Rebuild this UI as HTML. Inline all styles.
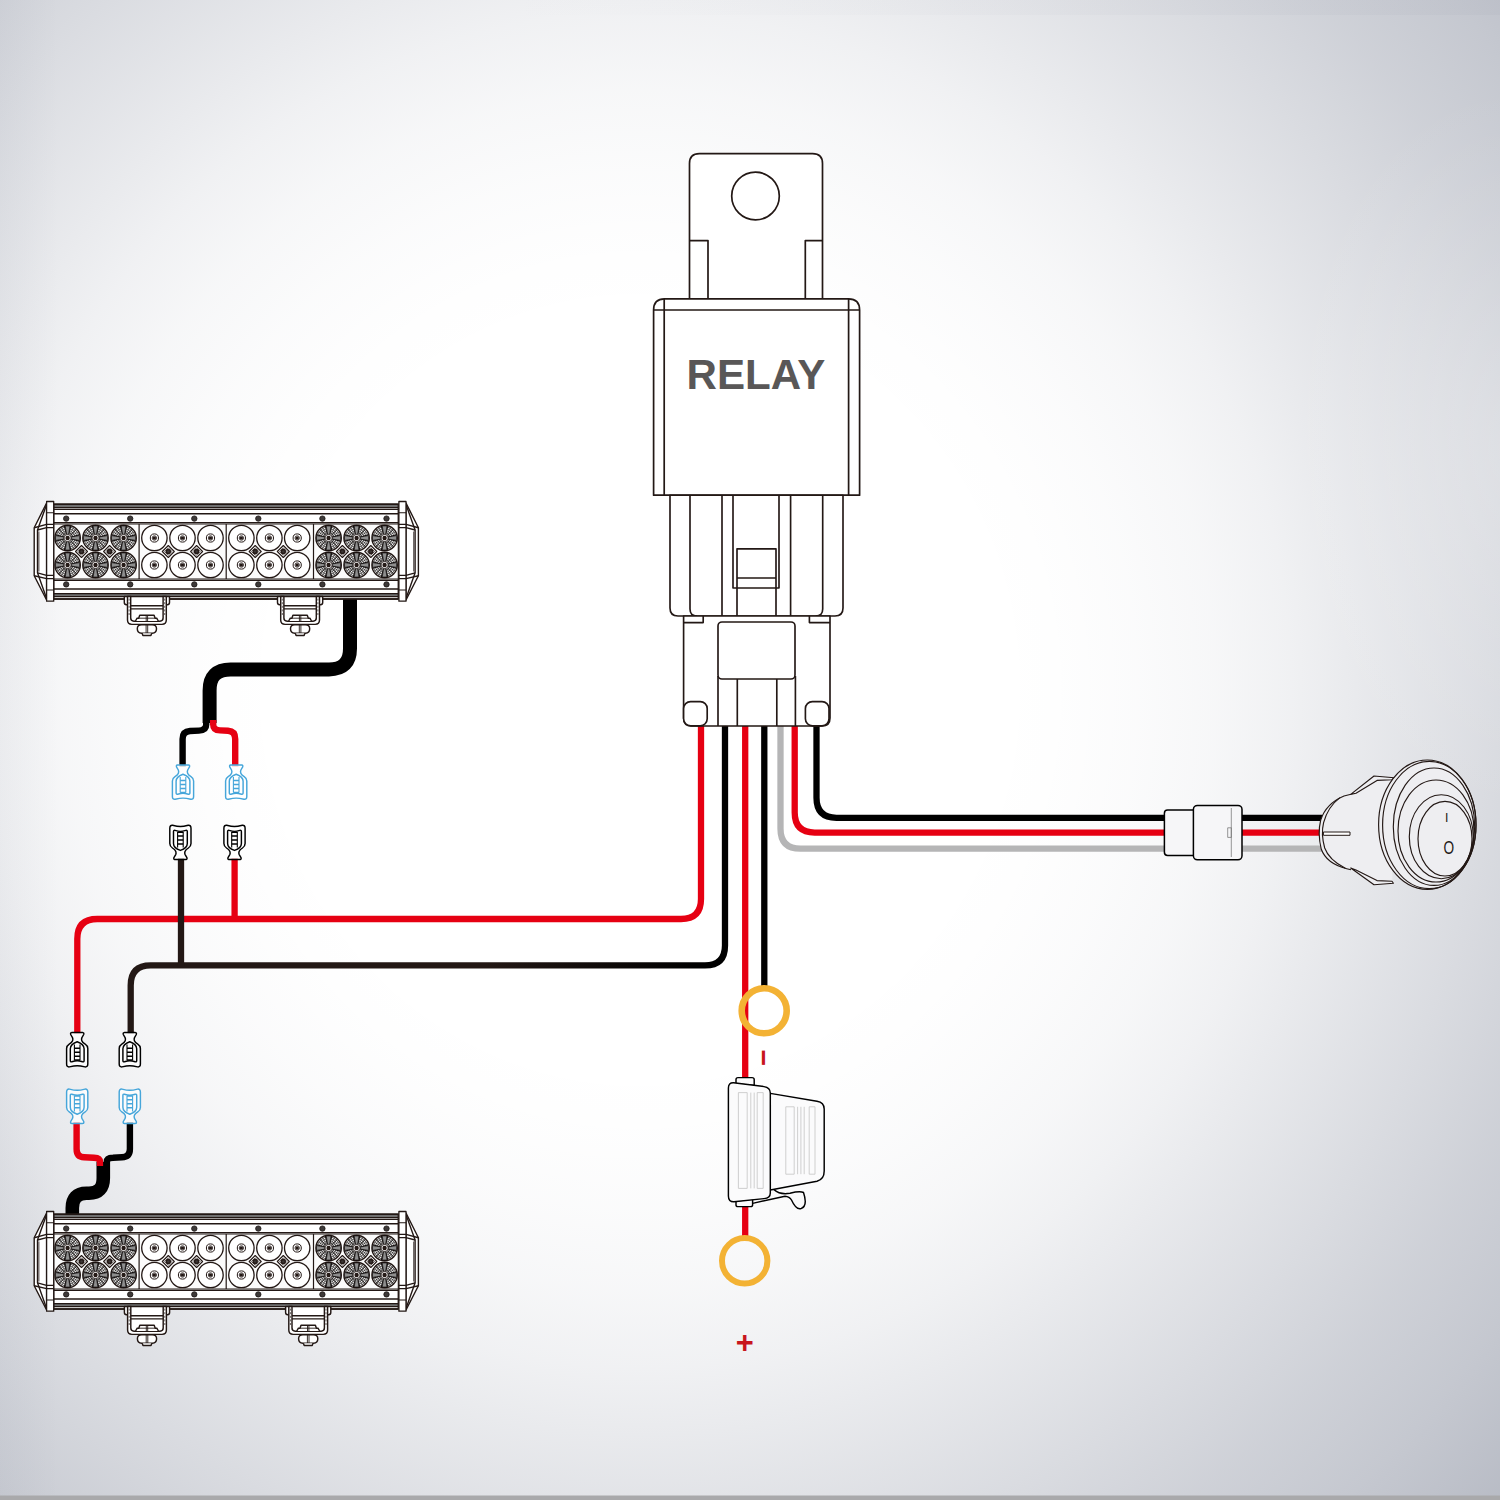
<!DOCTYPE html>
<html lang="en">
<head>
<meta charset="utf-8">
<title>LED light bar wiring harness diagram</title>
<style>
html,body{margin:0;padding:0;}
body{width:1500px;height:1500px;overflow:hidden;background:#e4e5ea;position:relative;
font-family:"Liberation Sans",sans-serif;}
svg{position:absolute;left:0;top:0;display:block;}
text{font-family:"Liberation Sans",sans-serif;font-weight:bold;}
</style>
</head>
<body>
<svg width="1500" height="1500" viewBox="0 0 1500 1500">
<defs>
<radialGradient id="bgr" gradientUnits="userSpaceOnUse" cx="640" cy="690" r="1250" gradientTransform="translate(0,690) scale(1,1.0417) translate(0,-690)">
<stop offset="0.288" stop-color="#131f3f" stop-opacity="0.0000"/>
<stop offset="0.344" stop-color="#131f3f" stop-opacity="0.0067"/>
<stop offset="0.400" stop-color="#131f3f" stop-opacity="0.0179"/>
<stop offset="0.460" stop-color="#131f3f" stop-opacity="0.0357"/>
<stop offset="0.520" stop-color="#131f3f" stop-opacity="0.0625"/>
<stop offset="0.580" stop-color="#131f3f" stop-opacity="0.0982"/>
<stop offset="0.640" stop-color="#131f3f" stop-opacity="0.1339"/>
<stop offset="0.700" stop-color="#131f3f" stop-opacity="0.1696"/>
<stop offset="0.760" stop-color="#131f3f" stop-opacity="0.2054"/>
<stop offset="0.840" stop-color="#131f3f" stop-opacity="0.2455"/>
<stop offset="0.920" stop-color="#131f3f" stop-opacity="0.2946"/>
<stop offset="1.000" stop-color="#131f3f" stop-opacity="0.3348"/>
</radialGradient>
<radialGradient id="glow" gradientUnits="userSpaceOnUse" cx="1510" cy="450" r="230" gradientTransform="translate(0,450) scale(1,1.6) translate(0,-450)">
<stop offset="0" stop-color="#ffffff" stop-opacity="0.22"/><stop offset="0.5" stop-color="#ffffff" stop-opacity="0.1"/><stop offset="1" stop-color="#ffffff" stop-opacity="0"/>
</radialGradient>
<linearGradient id="edgeL" gradientUnits="userSpaceOnUse" x1="0" y1="0" x2="60" y2="0">
<stop offset="0" stop-color="#131f3f" stop-opacity="0.03"/><stop offset="1" stop-color="#131f3f" stop-opacity="0"/>
</linearGradient>
<linearGradient id="edgeR" gradientUnits="userSpaceOnUse" x1="1500" y1="0" x2="1000" y2="0">
<stop offset="0" stop-color="#131f3f" stop-opacity="0.05"/><stop offset="1" stop-color="#131f3f" stop-opacity="0"/>
</linearGradient>
<linearGradient id="topband" gradientUnits="userSpaceOnUse" x1="500" y1="0" x2="1500" y2="0"><stop offset="0" stop-color="#8f93a3" stop-opacity="0"/><stop offset="1" stop-color="#8f93a3" stop-opacity="0.08"/></linearGradient>
<g id="spade" fill="none" stroke-width="1.45" stroke-linejoin="round">
<path fill="#ffffff" fill-opacity="0.75" d="M-5.6,0 H5.6 Q7,0.2 6.5,1.9 L4.7,5 Q4,6.6 4.6,8.2 Q5.3,10 8,11.6 Q10.6,13.2 10.6,16 V31.4 Q10.6,34.6 7.8,34.3 Q3,33.1 0,33.1 Q-3,33.1 -7.8,34.3 Q-10.6,34.6 -10.6,31.4 V16 Q-10.6,13.2 -8,11.6 Q-5.3,10 -4.6,8.2 Q-4,6.6 -4.7,5 L-6.5,1.9 Q-7,0.2 -5.6,0 Z"/>
<path d="M0,9.2 Q-6.9,11.6 -6.9,16.2 V27.8 Q-6.9,29.6 -5.4,29.2 Q-2,28.2 0,28.2 Q2,28.2 5.4,29.2 Q6.9,29.6 6.9,27.8 V16.2 Q6.9,11.6 0,9.2 Z"/>
<path d="M-2.8,12 V27.6 M2.8,12 V27.6" stroke-width="1.1"/>
<path d="M-2.8,15.6 H2.8 M-2.8,19.6 H2.8 M-2.8,23.6 H2.8 M-2.8,27.4 H2.8" stroke-width="1.5"/>
</g>
<g id="spot">
<circle r="12.7" fill="#f4f4f4" stroke="#231815" stroke-width="1.4"/>
<circle r="5.4" fill="none" stroke="#0d0908" stroke-width="0.65"/>
<circle r="7.4" fill="none" stroke="#0d0908" stroke-width="0.65"/>
<circle r="9.4" fill="none" stroke="#0d0908" stroke-width="0.65"/>
<circle r="11.2" fill="none" stroke="#0d0908" stroke-width="0.65"/>
<path d="M3.60,0.00 L12.30,0.00 M3.48,0.93 L11.88,3.18 M3.12,1.80 L10.65,6.15 M2.55,2.55 L8.70,8.70 M1.80,3.12 L6.15,10.65 M0.93,3.48 L3.18,11.88 M0.00,3.60 L0.00,12.30 M-0.93,3.48 L-3.18,11.88 M-1.80,3.12 L-6.15,10.65 M-2.55,2.55 L-8.70,8.70 M-3.12,1.80 L-10.65,6.15 M-3.48,0.93 L-11.88,3.18 M-3.60,0.00 L-12.30,0.00 M-3.48,-0.93 L-11.88,-3.18 M-3.12,-1.80 L-10.65,-6.15 M-2.55,-2.55 L-8.70,-8.70 M-1.80,-3.12 L-6.15,-10.65 M-0.93,-3.48 L-3.18,-11.88 M-0.00,-3.60 L-0.00,-12.30 M0.93,-3.48 L3.18,-11.88 M1.80,-3.12 L6.15,-10.65 M2.55,-2.55 L8.70,-8.70 M3.12,-1.80 L10.65,-6.15 M3.48,-0.93 L11.88,-3.18" stroke="#0d0908" stroke-width="0.5" fill="none"/>
<path d="M3.28,0.88 L11.98,3.21 M2.40,2.40 L8.77,8.77 M0.88,3.28 L3.21,11.98 M-0.88,3.28 L-3.21,11.98 M-2.40,2.40 L-8.77,8.77 M-3.28,0.88 L-11.98,3.21 M-3.28,-0.88 L-11.98,-3.21 M-2.40,-2.40 L-8.77,-8.77 M-0.88,-3.28 L-3.21,-11.98 M0.88,-3.28 L3.21,-11.98 M2.40,-2.40 L8.77,-8.77 M3.28,-0.88 L11.98,-3.21" stroke="#0d0908" stroke-width="0.9" fill="none"/>
<path d="M3.65,-1.05 L12.07,-2.38 L12.07,2.38 L3.65,1.05Z M1.05,3.65 L2.38,12.07 L-2.38,12.07 L-1.05,3.65Z M-3.65,1.05 L-12.07,2.38 L-12.07,-2.38 L-3.65,-1.05Z M-1.05,-3.65 L-2.38,-12.07 L2.38,-12.07 L1.05,-3.65Z" fill="#8e8e8e" stroke="#0d0908" stroke-width="0.7"/>
<circle r="3.5" fill="#ffffff" stroke="#231815" stroke-width="0.75"/>
<circle r="1.5" fill="#231815"/>
<circle r="0.45" fill="#ffffff"/>
</g>
<g id="flood">
<circle r="12.7" fill="#ffffff" stroke="#231815" stroke-width="1.3"/>
<circle r="4.1" fill="#ffffff" stroke="#231815" stroke-width="1.0"/>
<circle r="2.2" fill="#cfcfcf" stroke="#231815" stroke-width="0.8"/>
<circle r="0.9" fill="#231815"/>
</g>
<g id="dia">
<path d="M0,-6 L6,0 L0,6 L-6,0Z" fill="#ffffff" stroke="#231815" stroke-width="1.1"/>
<path d="M0,-3.7 L3.7,0 L0,3.7 L-3.7,0Z" fill="#ffffff" stroke="#231815" stroke-width="0.7"/>
<circle r="2" fill="#3a3534"/>
</g>
<g id="bracket" fill="#ffffff" stroke="#231815" stroke-width="1.45" stroke-linejoin="round">
<path d="M-22.6,0 V6 Q-22.6,8.2 -20.4,8.2 H-16 V0Z M22.6,0 V6 Q22.6,8.2 20.4,8.2 H16 V0Z"/>
<path d="M-19.4,0 V23.5 Q-19.4,27.8 -15,27.8 H15 Q19.4,27.8 19.4,23.5 V0Z"/>
<path d="M-16.2,0 V21.5 Q-16.2,24.6 -13,24.6 H13 Q16.2,24.6 16.2,21.5 V0" fill="none"/>
<path d="M-16.2,9.1 H16.2 M-16.2,12.3 H16.2" fill="none"/>
<path d="M-17.8,2 V20 M17.8,2 V20" fill="none" stroke-width="0.7" stroke-dasharray="2 1.6"/>
<path d="M-11.4,24.4 L-9.8,21.6 H-8.2 L-7.2,18.7 H7.2 L8.2,21.6 H9.8 L11.4,24.4"/>
<path d="M-0.7,18.7 V24.4 M0.7,18.7 V24.4 M-8.2,21.6 H8.2" fill="none" stroke-width="0.9"/>
<path d="M-5.3,28.2 H5.3 Q9.6,28.2 9.6,32.2 Q9.6,36.6 5.3,36.6 H-5.3 Q-9.6,36.6 -9.6,32.2 Q-9.6,28.2 -5.3,28.2Z"/>
<path d="M-0.8,28.2 V36.6 M0.8,28.2 V36.6" fill="none" stroke-width="0.9"/>
<path d="M-4.8,36.6 L-4,39 H4 L4.8,36.6" />
</g>
<g id="barend" stroke="#231815" stroke-width="1.4" fill="none" stroke-linejoin="round">
<path d="M46.6,503 L34.2,527.7 V575.7 L46.6,600Z" fill="#ffffff"/>
<path d="M46.6,504.5 L37.5,530 V572.8 L46.6,598.5"/>
<path d="M34.2,527.7 L46.6,524.4 M37.5,530 L46.6,527.6 M34.2,575.7 L46.6,578.6 M37.5,572.8 L46.6,575.4"/>
<path d="M38.9,531.5 V571.5" stroke-width="0.8"/>
<rect x="46.6" y="501.5" width="7.1" height="99.7" fill="#ffffff" stroke-width="1.3"/>
<path d="M46.6,512.7 H53.7 M46.6,524.4 H53.7 M46.6,527.6 H53.7 M46.6,575.4 H53.7 M46.6,578.6 H53.7 M46.6,590 H53.7" stroke-width="1.1"/>
</g>
<g id="bar" stroke="#231815" stroke-width="1.4" fill="none" stroke-linejoin="round">
<rect x="53.7" y="504.2" width="344.6" height="94.8" fill="#ffffff"/>
<rect x="53.7" y="504.2" width="344.6" height="3.4" fill="#6f6f6f"/>
<rect x="53.7" y="593.6" width="344.6" height="3" fill="#6f6f6f"/>
<path d="M53.7,509.4 H398.3" stroke-width="1.3"/>
<path d="M53.7,513.8 H398.3" stroke-width="1.5"/>
<path d="M53.7,522.6 H398.3" stroke-width="1.3"/>
<path d="M53.7,580.4 H398.3" stroke-width="1.3"/>
<path d="M53.7,589.1 H398.3" stroke-width="1.5"/>
<path d="M53.7,599.0 H398.3" stroke-width="1.3"/>
<rect x="53.7" y="524" width="344.6" height="55" fill="#fbfbfb" stroke-width="1.1"/>
<path d="M139.1,524 V579" stroke-width="1.2"/>
<path d="M226.2,524 V579" stroke-width="1.2"/>
<path d="M313.5,524 V579" stroke-width="1.2"/>
<circle cx="66.2" cy="518.6" r="2.7" fill="#3e3a39" stroke="#1a1413" stroke-width="0.8"/>
<circle cx="66.2" cy="584.4" r="2.7" fill="#3e3a39" stroke="#1a1413" stroke-width="0.8"/>
<circle cx="130.2" cy="518.6" r="2.7" fill="#3e3a39" stroke="#1a1413" stroke-width="0.8"/>
<circle cx="130.2" cy="584.4" r="2.7" fill="#3e3a39" stroke="#1a1413" stroke-width="0.8"/>
<circle cx="194.3" cy="518.6" r="2.7" fill="#3e3a39" stroke="#1a1413" stroke-width="0.8"/>
<circle cx="194.3" cy="584.4" r="2.7" fill="#3e3a39" stroke="#1a1413" stroke-width="0.8"/>
<circle cx="258.3" cy="518.6" r="2.7" fill="#3e3a39" stroke="#1a1413" stroke-width="0.8"/>
<circle cx="258.3" cy="584.4" r="2.7" fill="#3e3a39" stroke="#1a1413" stroke-width="0.8"/>
<circle cx="322.4" cy="518.6" r="2.7" fill="#3e3a39" stroke="#1a1413" stroke-width="0.8"/>
<circle cx="322.4" cy="584.4" r="2.7" fill="#3e3a39" stroke="#1a1413" stroke-width="0.8"/>
<circle cx="386.5" cy="518.6" r="2.7" fill="#3e3a39" stroke="#1a1413" stroke-width="0.8"/>
<circle cx="386.5" cy="584.4" r="2.7" fill="#3e3a39" stroke="#1a1413" stroke-width="0.8"/>
<use href="#spot" x="67.6" y="538.0"/>
<use href="#spot" x="67.6" y="565.0"/>
<use href="#spot" x="95.5" y="538.0"/>
<use href="#spot" x="95.5" y="565.0"/>
<use href="#spot" x="123.6" y="538.0"/>
<use href="#spot" x="123.6" y="565.0"/>
<use href="#flood" x="154.4" y="538.0"/>
<use href="#flood" x="154.4" y="565.0"/>
<use href="#flood" x="182.5" y="538.0"/>
<use href="#flood" x="182.5" y="565.0"/>
<use href="#flood" x="210.5" y="538.0"/>
<use href="#flood" x="210.5" y="565.0"/>
<use href="#flood" x="241.4" y="538.0"/>
<use href="#flood" x="241.4" y="565.0"/>
<use href="#flood" x="269.4" y="538.0"/>
<use href="#flood" x="269.4" y="565.0"/>
<use href="#flood" x="297.2" y="538.0"/>
<use href="#flood" x="297.2" y="565.0"/>
<use href="#spot" x="328.6" y="538.0"/>
<use href="#spot" x="328.6" y="565.0"/>
<use href="#spot" x="356.6" y="538.0"/>
<use href="#spot" x="356.6" y="565.0"/>
<use href="#spot" x="384.6" y="538.0"/>
<use href="#spot" x="384.6" y="565.0"/>
<use href="#dia" x="81.5" y="551.5"/>
<use href="#dia" x="109.6" y="551.5"/>
<use href="#dia" x="168.3" y="551.5"/>
<use href="#dia" x="196.6" y="551.5"/>
<use href="#dia" x="255.2" y="551.5"/>
<use href="#dia" x="283.3" y="551.5"/>
<use href="#dia" x="342.4" y="551.5"/>
<use href="#dia" x="370.8" y="551.5"/>
<use href="#barend"/>
<use href="#barend" transform="translate(452.6,0) scale(-1,1)"/>
</g>
<linearGradient id="blkgrad" gradientUnits="userSpaceOnUse" x1="130" y1="0" x2="725" y2="0"><stop offset="0" stop-color="#231815"/><stop offset="0.6" stop-color="#231815"/><stop offset="0.95" stop-color="#000000"/></linearGradient>
</defs>
<rect x="0" y="0" width="1500" height="1500" fill="#ffffff"/>
<rect x="0" y="0" width="1500" height="1500" fill="url(#bgr)"/>
<rect x="0" y="0" width="60" height="1500" fill="url(#edgeL)"/>
<rect x="0" y="0" width="1500" height="1500" fill="url(#glow)"/>
<rect x="0" y="0" width="1500" height="15" fill="url(#topband)"/>
<rect x="0" y="1495.5" width="1500" height="4.5" fill="#a9a9ab"/>
<g id="wires" stroke-linecap="butt" stroke-linejoin="round">
<path d="M701,724 V899 Q701,919 681,919 H97.3 Q77.3,919 77.3,939 V1033.5" fill="none" stroke="#e60012" stroke-width="6.3" />
<path d="M234.6,858 V919" fill="none" stroke="#e60012" stroke-width="6.3" />
<path d="M725,724 V945.4 Q725,965.4 705,965.4 H150.7 Q130.7,965.4 130.7,985.4 V1033.5" fill="none" stroke="url(#blkgrad)" stroke-width="6.3" />
<path d="M181,858 V966" fill="none" stroke="#231815" stroke-width="6.3" />
<path d="M745.2,724 V1079" fill="none" stroke="#e60012" stroke-width="6.3" />
<path d="M745.2,1205 V1240" fill="none" stroke="#e60012" stroke-width="6.3" />
<path d="M764.3,724 V990" fill="none" stroke="#000000" stroke-width="6.3" />
<path d="M780.5,724 V828.7 Q780.5,848.7 800.5,848.7 H1170" fill="none" stroke="#b5b5b6" stroke-width="6.3" />
<path d="M794.7,724 V812.6 Q794.7,832.6 814.7,832.6 H1170" fill="none" stroke="#e60012" stroke-width="6.3" />
<path d="M816.5,724 V797.8 Q816.5,817.8 836.5,817.8 H1170" fill="none" stroke="#000000" stroke-width="6.3" />
<path d="M1238,848.7 H1324" fill="none" stroke="#b5b5b6" stroke-width="6.3" />
<path d="M1238,832.6 H1322" fill="none" stroke="#e60012" stroke-width="6.3" />
<path d="M1238,817.8 H1322" fill="none" stroke="#000000" stroke-width="6.3" />
</g>
<g id="cable1" fill="none">
<path d="M350,598 V648.4 Q350,669.4 329,669.4 H230.6 Q209.6,669.4 209.6,690.4 V723" fill="none" stroke="#000000" stroke-width="14" />
<path d="M206.2,720 V724.5 Q206.2,730.4 199,730.6 L190,731 Q182.6,731.4 182.6,739 V766.5" fill="none" stroke="#000000" stroke-width="6.4" />
<path d="M213.2,720 V724.5 Q213.2,730.2 220,730.4 L228,730.8 Q235.2,731.2 235.2,739 V766.5" fill="none" stroke="#e60012" stroke-width="6.4" />
</g>
<g id="cable2" fill="none">
<path d="M72.3,1216 V1208 Q72.3,1193.3 86.5,1193.3 H89 Q103.3,1193.3 103.3,1178 V1162" fill="none" stroke="#000000" stroke-width="13.6" />
<path d="M76.6,1122 V1149 Q76.6,1157 84,1157.3 L94,1157.8 Q100,1158 100,1162 V1166" fill="none" stroke="#e60012" stroke-width="6.4" />
<path d="M129.9,1122 V1149 Q129.9,1157 122,1157.3 L113,1157.8 Q106.7,1158 106.7,1162 V1166" fill="none" stroke="#000000" stroke-width="6.4" />
</g>
<g id="spades">
<use href="#spade" transform="translate(183.0,765.0)" stroke="#46a6da"/>
<use href="#spade" transform="translate(236.2,765.0)" stroke="#46a6da"/>
<use href="#spade" transform="translate(180.4,859.6) scale(1,-1)" stroke="#000000"/>
<use href="#spade" transform="translate(234.5,859.6) scale(1,-1)" stroke="#000000"/>
<use href="#spade" transform="translate(77.2,1032.6)" stroke="#000000"/>
<use href="#spade" transform="translate(129.8,1032.6)" stroke="#000000"/>
<use href="#spade" transform="translate(77.2,1123.4) scale(1,-1)" stroke="#46a6da"/>
<use href="#spade" transform="translate(129.8,1123.4) scale(1,-1)" stroke="#46a6da"/>
</g>
<g id="lightbar1">
<use href="#bar"/>
<use href="#bracket" x="146.9" y="596.6"/>
<use href="#bracket" x="300.1" y="596.6"/>
</g>
<g id="lightbar2" transform="translate(0,710)">
<use href="#bar"/>
<use href="#bracket" x="147" y="596.6"/>
<use href="#bracket" x="308.2" y="596.6"/>
</g>
<g id="relay" fill="#ffffff" stroke="#231815" stroke-width="1.7" stroke-linejoin="round">
<path d="M689.5,299 V163.5 Q689.5,153.6 699.4,153.6 H812.6 Q822.5,153.6 822.5,163.5 V299Z"/>
<path d="M689.5,240.6 H708 V299 M822.5,240.6 H805.3 V299" fill="none"/>
<circle cx="755.5" cy="196" r="23.8"/>
<path d="M653.6,495.2 V310 Q653.6,298.8 664.5,298.8 H848.5 Q859.6,298.8 859.6,310 V495.2Z"/>
<path d="M664.2,298.8 V495.2 M848.6,298.8 V495.2 M653.6,310 H859.6" fill="none"/>
</g>
<text x="756" y="388.6" font-size="42.1" text-anchor="middle" fill="#595757" font-family="Liberation Sans, sans-serif" font-weight="bold">RELAY</text>
<g id="socket" fill="#ffffff" stroke="#231815" stroke-width="1.65" stroke-linejoin="round">
<path d="M670,495.2 V608 Q670,616 678,616 H835 Q843,616 843,608 V495.2Z"/>
<path d="M690,495.2 V609 Q690,616 697,616 M822.7,495.2 V609 Q822.7,616 815.7,616 M722,495.2 V616 M790.6,495.2 V616" fill="none"/>
<path d="M733,495.2 V588 H779 V495.2" fill="none"/>
<path d="M737,622 V548.8 H776 V622 M737,578 H776" fill="none"/>
</g>
<g id="plug" fill="#ffffff" stroke="#231815" stroke-width="1.65" stroke-linejoin="round">
<path d="M683.6,616 V718 Q683.6,726 691.6,726 H822 Q830,726 830,718 V616Z"/>
<path d="M683.6,622.6 H703.2 V616 M830,622.6 H809.4 V616" fill="none"/>
<rect x="718" y="622" width="77" height="57" rx="4" ry="4"/>
<path d="M718,676 V726 M737.3,679 V726 M776.8,679 V726 M795.4,676 V726" fill="none"/>
<rect x="683.6" y="701.6" width="23.6" height="24.2" rx="7" ry="7"/>
<rect x="805.4" y="701.6" width="23.6" height="24.2" rx="7" ry="7"/>
</g>
<circle cx="764.2" cy="1010.8" r="22.5" fill="none" stroke="#f3b234" stroke-width="6.6"/>
<circle cx="744.7" cy="1260.8" r="22.7" fill="none" stroke="#f3b234" stroke-width="6"/>
<text x="744.8" y="1353.2" font-size="30.8" text-anchor="middle" fill="#c8161d" font-family="Liberation Sans, sans-serif" font-weight="bold">+</text>
<text transform="translate(763.6,1057.8) rotate(90)" x="0" y="0" font-size="28.5" text-anchor="middle" fill="#c8161d" font-family="Liberation Sans, sans-serif" font-weight="bold" dominant-baseline="central">−</text>
<g id="fuse" fill="#fbfbfc" stroke="#000000" stroke-width="1.45" stroke-linejoin="round">
<path d="M736,1084 V1079.5 Q736,1077.6 738,1077.6 H752 Q754.2,1077.6 754.2,1079.5 V1085.5Z"/>
<path d="M736,1201 V1205 Q736,1206.6 738,1206.6 H750.5 Q752.6,1206.6 752.6,1205 V1199Z"/>
<path d="M770.3,1093.4 L817,1101.2 Q824.2,1102.4 824.2,1109 V1171 Q824.2,1179.4 817,1181.2 L770.3,1190Z"/>
<path d="M774,1189.6 Q780,1195 790,1193.2 Q800,1190.8 803.5,1192.5 Q808,1206 801,1208.6 Q796,1210 791.5,1200 Q789.5,1196.6 785,1196.2 L752.6,1203.4" fill="none"/>
<path d="M728.4,1088 Q728.4,1082.6 733.5,1082.8 L764,1086.6 Q770.3,1087.6 770.3,1093 V1193 Q770.3,1198.2 764,1198.6 L734,1201.8 Q728.4,1202 728.4,1196Z"/>
<g stroke="#c9caca" stroke-width="0.9" fill="none">
<rect x="738.4" y="1092.6" width="8.8" height="95.8"/>
<path d="M750.8,1092.6 V1188.4 M754.2,1092.6 V1188.4"/>
<rect x="757.2" y="1092.6" width="6" height="95.8"/>
<rect x="785.8" y="1106.8" width="8.4" height="67.4"/>
<path d="M797.6,1106.8 V1174.2 M800.9,1106.8 V1174.2 M804.2,1106.8 V1174.2"/>
<rect x="809.2" y="1106.8" width="5.8" height="67.4"/>
</g>
</g>
<g id="inline" fill="#f6f6f8" stroke="#000000" stroke-width="1.5" stroke-linejoin="round">
<rect x="1164.4" y="810" width="32" height="45.4" rx="3.2" ry="3.2"/>
<rect x="1193.4" y="805.4" width="48.6" height="54.4" rx="4" ry="4"/>
<path d="M1231.3,808 V857" fill="none" stroke="#6b6b6b" stroke-width="0.7"/>
<rect x="1227.7" y="827.8" width="3.6" height="9.6" fill="none" stroke="#6b6b6b" stroke-width="0.7"/>
</g>
<g id="switch" fill="#eeeef1" stroke="#231815" stroke-width="1.15" stroke-linejoin="round">
<path d="M1344,796 Q1326,803.6 1320.7,820 Q1317.4,833.5 1321.3,849.3 Q1326.5,863.6 1346.7,868.7 L1377,880.6 L1392.4,881.2 L1392.4,779.8 L1377,780.4 Z" stroke="none"/>
<path d="M1351,794.2 L1344,796 Q1326,803.6 1320.7,820 Q1317.4,833.5 1321.3,849.3 Q1326.5,863.6 1346.7,868.7 L1351,869.8" fill="none"/>
<path d="M1340,797.6 Q1328,806.5 1323.6,822.6 Q1320.8,834 1324.7,848 Q1329,860 1345.3,868.2" fill="none"/>
<path d="M1350.7,794.4 L1374,776 L1394,777.7 L1392,779.8 L1377,780.4 L1356,793.3 Z"/>
<path d="M1350.7,868 L1374,884.7 L1393.4,883.3 L1392,881.2 L1377,880.6 L1356,870 Z"/>
<rect x="1323.4" y="832" width="26.6" height="3.3" fill="#ffffff" stroke-width="1"/>
<ellipse cx="1427.3" cy="824.7" rx="48.7" ry="64.7"/>
<ellipse cx="1429.3" cy="825" rx="46.7" ry="63.6" fill="none"/>
<ellipse cx="1434" cy="826.7" rx="40.7" ry="58.7" fill="none"/>
<ellipse cx="1436" cy="831" rx="38" ry="51" fill="none"/>
<ellipse cx="1441.3" cy="836.7" rx="32" ry="42" fill="none"/>
<ellipse cx="1445" cy="838.7" rx="27" ry="37.3" fill="none"/>
</g>
<text x="1446.7" y="821.5" font-size="12.2" text-anchor="middle" fill="#231815" style="font-weight:normal" font-family="Liberation Sans, sans-serif">I</text>
<text transform="translate(1448.7,854.1) scale(0.72,1)" x="0" y="0" font-size="19" text-anchor="middle" fill="#231815" style="font-weight:normal" font-family="Liberation Sans, sans-serif">O</text>
</svg>
</body>
</html>
